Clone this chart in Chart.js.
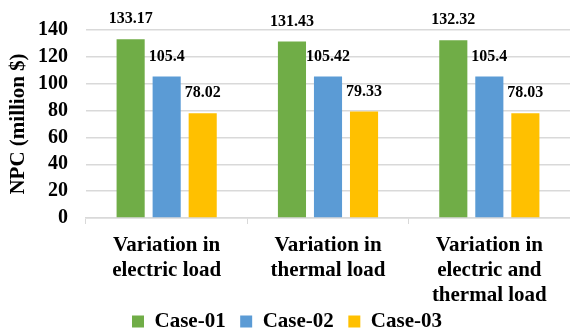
<!DOCTYPE html>
<html>
<head>
<meta charset="utf-8">
<script src="https://cdn.jsdelivr.net/npm/chart.js@4/dist/chart.umd.min.js"></script>
<style>
  html, body { margin: 0; padding: 0; background: #ffffff; }
  #wrap { width: 570px; height: 334px; }
</style>
</head>
<body>
<div id="wrap"><canvas id="npcChart"></canvas></div>
<script>
// Chart data
const categories = [
  ["Variation in", "electric load"],
  ["Variation in", "thermal load"],
  ["Variation in", "electric and", "thermal load"],
];
const seriesNames = ["Case-01", "Case-02", "Case-03"];
const case01 = [133.17, 131.43, 132.32];
const case02 = [105.4, 105.42, 105.4];
const case03 = [78.02, 79.33, 78.03];
const valueLabels = [
  ["133.17", "131.43", "132.32"],
  ["105.4", "105.42", "105.4"],
  ["78.02", "79.33", "78.03"],
];
const yTicks = [0, 20, 40, 60, 80, 100, 120, 140];

const colors = ["#70AD47", "#5B9BD5", "#FFC000"];
const serif = "'Liberation Serif', 'Times New Roman', serif";

// Draws the value above each bar, like the Excel data labels
const barLabels = {
  id: "barLabels",
  afterDatasetsDraw(chart) {
    const ctx = chart.ctx;
    ctx.save();
    ctx.font = "bold 16px " + serif;
    ctx.fillStyle = "#000000";
    ctx.textAlign = "center";
    ctx.textBaseline = "middle";
    chart.data.datasets.forEach((ds, i) => {
      const meta = chart.getDatasetMeta(i);
      meta.data.forEach((bar, j) => {
        ctx.fillText(valueLabels[i][j], bar.x, bar.y - 20);
      });
    });
    ctx.restore();
  },
};

const ctx = document.getElementById("npcChart").getContext("2d");

new Chart(ctx, {
  type: "bar",
  data: {
    labels: categories,
    datasets: [
      { label: seriesNames[0], data: case01, backgroundColor: colors[0], borderWidth: 0 },
      { label: seriesNames[1], data: case02, backgroundColor: colors[1], borderWidth: 0 },
      { label: seriesNames[2], data: case03, backgroundColor: colors[2], borderWidth: 0 },
    ],
  },
  options: {
    responsive: true,
    maintainAspectRatio: false,
    animation: false,
    // negative bottom padding pushes the legend down near the edge
    layout: { padding: { top: 26, right: 0, left: 4, bottom: -8 } },
    datasets: {
      bar: { categoryPercentage: 0.67, barPercentage: 0.78 },
    },
    plugins: {
      legend: {
        position: "bottom",
        labels: {
          boxWidth: 12,
          boxHeight: 12,
          padding: 4,
          color: "#000000",
          font: { family: serif, size: 21, weight: "bold", lineHeight: 1 },
          // a little trailing space keeps the items as far apart as in the original
          generateLabels: (chart) =>
            Chart.defaults.plugins.legend.labels
              .generateLabels(chart)
              .map((item, i, all) =>
                i < all.length - 1 ? { ...item, text: item.text + "  " } : item
              ),
        },
      },
      tooltip: { enabled: false },
    },
    scales: {
      x: {
        afterFit: (scale) => {
          scale.height = 89;
        },
        grid: {
          drawOnChartArea: false,
          drawTicks: true,
          tickLength: 6,
          color: "#d9d9d9",
        },
        border: { display: true, color: "#d9d9d9", width: 1.5 },
        ticks: {
          color: "#000000",
          padding: 9,
          maxRotation: 0,
          font: { family: serif, size: 21, weight: "bold", lineHeight: 1.2 },
        },
      },
      y: {
        min: 0,
        max: 140,
        afterBuildTicks: (scale) => {
          scale.ticks = yTicks.map((v) => ({ value: v }));
        },
        afterFit: (scale) => {
          scale.width = 82;
        },
        grid: { color: "#d9d9d9", lineWidth: 1.5, drawTicks: false },
        border: { display: false },
        ticks: {
          autoSkip: false,
          color: "#000000",
          padding: 18,
          font: { family: serif, size: 20, weight: "bold" },
        },
        title: {
          display: true,
          text: "NPC (million $)",
          color: "#000000",
          padding: 2,
          font: { family: serif, size: 21, weight: "bold" },
        },
      },
    },
  },
  plugins: [barLabels],
});
</script>
</body>
</html>
